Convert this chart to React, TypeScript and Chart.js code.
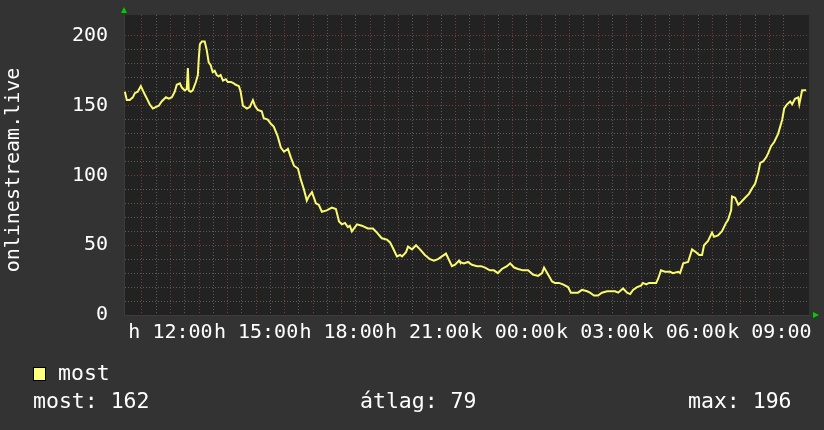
import React, { useEffect, useRef } from "react";
import { Chart, registerables } from "chart.js";

Chart.register(...registerables);

// time in hours (0 = Monday 00:00, 24 = Tuesday 00:00)
const times: number[] = [
  10.40, 10.47, 10.57, 10.68, 10.75, 10.85, 10.96, 11.03, 11.10, 11.20, 11.27, 11.38, 11.48, 11.59, 11.69, 11.84, 11.94,
  12.05, 12.15, 12.22, 12.33, 12.40, 12.50, 12.57, 12.61, 12.64, 12.71, 12.78, 12.89, 12.96, 12.99, 13.03, 13.10, 13.20,
  13.27, 13.34, 13.41, 13.48, 13.55, 13.62, 13.69, 13.76, 13.84, 13.94, 14.01, 14.12, 14.22, 14.29, 14.40, 14.46, 14.54,
  14.68, 14.78, 14.89, 14.96, 15.06, 15.20, 15.27, 15.41, 15.52, 15.62, 15.76, 15.87, 15.98, 16.12, 16.22, 16.33, 16.47,
  16.57, 16.68, 16.78, 16.85, 16.96, 17.10, 17.20, 17.31, 17.48, 17.66, 17.80, 17.91, 18.01, 18.12, 18.22, 18.29, 18.36,
  18.54, 18.71, 18.92, 19.10, 19.24, 19.41, 19.59, 19.70, 19.80, 19.94, 20.05, 20.12, 20.26, 20.33, 20.47, 20.61, 20.75,
  20.92, 21.10, 21.24, 21.38, 21.52, 21.66, 21.73, 21.87, 21.98, 22.12, 22.15, 22.29, 22.43, 22.57, 22.75, 22.89, 23.03,
  23.20, 23.34, 23.48, 23.62, 23.80, 23.91, 24.05, 24.19, 24.36, 24.54, 24.71, 24.89, 25.03, 25.10, 25.24, 25.38, 25.48,
  25.62, 25.76, 25.94, 26.04, 26.19, 26.29, 26.43, 26.61, 26.71, 26.85, 26.99, 27.13, 27.31, 27.48, 27.59, 27.70, 27.87,
  28.01, 28.12, 28.22, 28.36, 28.50, 28.57, 28.68, 28.78, 28.89, 29.03, 29.10, 29.20, 29.34, 29.52, 29.62, 29.80, 29.87,
  29.98, 30.15, 30.29, 30.43, 30.54, 30.64, 30.71, 30.85, 30.99, 31.06, 31.20, 31.34, 31.48, 31.55, 31.66, 31.69, 31.80,
  31.91, 32.01, 32.15, 32.29, 32.40, 32.50, 32.61, 32.68, 32.78, 32.89, 32.96, 33.06, 33.17, 33.31, 33.38, 33.45, 33.52,
  33.62, 33.73, 33.80, 33.90, 34.01, 34.05, 34.15, 34.29,
];

const listeners: number[] = [
  160, 154, 154, 156, 159, 160, 164, 161, 158, 154, 151, 148, 149, 150, 153, 156, 155,
  156, 160, 165, 166, 163, 161, 162, 177, 161, 160, 161, 167, 172, 183, 194, 196, 196,
  190, 181, 179, 174, 175, 172, 171, 172, 168, 169, 167, 167, 166, 165, 164, 160, 150,
  148, 149, 154, 150, 147, 146, 141, 140, 137, 135, 128, 120, 117, 119, 113, 107, 105,
  97, 90, 82, 85, 88, 80, 79, 74, 75, 77, 76, 67, 65, 66, 63, 64, 60,
  65, 64, 62, 62, 59, 55, 54, 52, 48, 42, 43, 42, 45, 49, 47, 50, 47,
  43, 40, 39, 40, 42, 44, 41, 35, 36, 39, 38, 37, 38, 36, 35, 35, 34,
  32, 32, 30, 33, 35, 37, 34, 33, 32, 32, 29, 28, 30, 34, 29, 24, 23,
  23, 22, 20, 16, 16, 16, 18, 17, 16, 14, 14, 16, 17, 17, 17, 16, 19,
  16, 15, 18, 20, 21, 23, 22, 23, 23, 23, 26, 32, 31, 31, 30, 31, 30,
  37, 38, 47, 45, 43, 43, 50, 53, 59, 56, 57, 60, 66, 68, 75, 85, 84,
  79, 81, 84, 87, 91, 94, 102, 109, 110, 113, 116, 121, 124, 130, 135, 140, 148,
  151, 153, 151, 155, 156, 151, 161, 161,
];

const xMin = 10.37;
const xMax = 34.39;
const yMax = 215;
const dayNames: string[] = ["h", "k"];
const yLabelValues: number[] = [0, 50, 100, 150, 200];
const axisTitle = "onlinestream.live";
const legendName = "most";
const statLabels: string[] = ["most: 162", "átlag: 79", "max: 196"];

const FONT = '"DejaVu Sans Mono", monospace';
const LINE = "#fafa70";
const MAJOR = "#7a3a3a";
const MINOR = "#5a5a5a";

function fmtX(v: number): string {
  const r = Math.round(v * 100) / 100;
  if (Math.abs(r % 3) > 1e-6) return "";
  const day = Math.floor(r / 24);
  const h = ((r % 24) + 24) % 24;
  return `${dayNames[day] ?? ""} ${String(h).padStart(2, "0")}:00`;
}

const decor = {
  id: "rrdDecor",
  beforeDraw(chart: any) {
    const { ctx, chartArea: a } = chart;
    ctx.save();
    ctx.fillStyle = "#333333";
    ctx.fillRect(0, 0, chart.width, chart.height);
    ctx.fillStyle = "#222222";
    ctx.fillRect(a.left, a.top, a.right - a.left, a.bottom - a.top);
    ctx.restore();
  },
  afterDraw(chart: any) {
    const { ctx, chartArea: a } = chart;
    ctx.save();
    // arrows
    ctx.fillStyle = "#00cc00";
    ctx.beginPath();
    ctx.moveTo(a.left - 3, a.top - 2);
    ctx.lineTo(a.left + 3, a.top - 2);
    ctx.lineTo(a.left, a.top - 8);
    ctx.closePath();
    ctx.fill();
    ctx.beginPath();
    ctx.moveTo(a.right + 4, a.bottom - 3);
    ctx.lineTo(a.right + 4, a.bottom + 3);
    ctx.lineTo(a.right + 10, a.bottom);
    ctx.closePath();
    ctx.fill();
    // axis title
    ctx.fillStyle = "#ffffff";
    ctx.font = `20px ${FONT}`;
    ctx.textAlign = "center";
    ctx.textBaseline = "middle";
    ctx.translate(14, 170);
    ctx.rotate(-Math.PI / 2);
    ctx.fillText(axisTitle, 0, 0);
    ctx.restore();

    ctx.save();
    ctx.font = `21.5px ${FONT}`;
    ctx.textBaseline = "middle";
    ctx.textAlign = "left";
    ctx.fillStyle = "#ffff80";
    ctx.fillRect(33, 367, 13, 14);
    ctx.strokeStyle = "#000000";
    ctx.lineWidth = 1;
    ctx.strokeRect(33.5, 367.5, 12, 13);
    ctx.fillStyle = "#ffffff";
    ctx.fillText(legendName, 58, 374);
    ctx.fillText(statLabels[0], 33, 402);
    ctx.fillText(statLabels[1], 360, 402);
    ctx.fillText(statLabels[2], 688, 402);
    ctx.restore();
  },
};

export default function App() {
  const ref = useRef<HTMLCanvasElement | null>(null);
  useEffect(() => {
    document.body.style.margin = "0";
    const canvas = ref.current;
    if (!canvas) return;
    const data = times.map((t, i) => ({ x: t, y: listeners[i] }));
    const chart = new Chart(canvas, {
      type: "line",
      data: {
        datasets: [
          {
            label: legendName,
            data,
            borderColor: LINE,
            borderWidth: 2,
            pointRadius: 0,
            tension: 0,
            fill: false,
          },
        ],
      },
      options: {
        animation: false,
        responsive: false,
        maintainAspectRatio: false,
        layout: { autoPadding: false, padding: { left: 0, right: 15, top: 15, bottom: 0 } },
        plugins: { legend: { display: false }, tooltip: { enabled: false } },
        scales: {
          x: {
            type: "linear",
            min: xMin,
            max: xMax,
            afterFit: (s: any) => {
              s.height = 115;
              s.paddingLeft = 0;
              s.paddingRight = 0;
            },
            border: { display: true, color: "#3c3c3c", width: 1, dash: [1, 2] },
            grid: {
              drawTicks: false,
              lineWidth: 1,
              color: (c: any) => {
                const v = Math.round((c.tick?.value ?? 0) * 100) / 100;
                if (Math.abs(v % 1) < 1e-6) return MAJOR;
                if (Math.abs(v % 0.5) < 1e-6) return MINOR;
                return "rgba(0,0,0,0)";
              },
            },
            ticks: {
              stepSize: 0.5,
              maxTicksLimit: 200,
              autoSkip: false,
              maxRotation: 0,
              minRotation: 0,
              padding: 6,
              color: "#ffffff",
              font: { family: FONT, size: 20 },
              callback: (v: any) => fmtX(Number(v)),
            },
          },
          y: {
            min: 0,
            max: yMax,
            afterFit: (s: any) => {
              s.width = 124;
              s.paddingTop = 0;
              s.paddingBottom = 0;
            },
            border: { display: true, color: "#3c3c3c", width: 1, dash: [1, 2] },
            grid: {
              drawTicks: false,
              lineWidth: 1,
              color: (c: any) => {
                const v = Math.round(c.tick?.value ?? 0);
                if (v === 0 || v >= yMax) return "rgba(0,0,0,0)";
                if (v % 50 === 0) return MAJOR;
                if (v % 10 === 0) return MINOR;
                return "rgba(0,0,0,0)";
              },
            },
            ticks: {
              stepSize: 10,
              maxTicksLimit: 200,
              autoSkip: false,
              padding: 16,
              color: "#ffffff",
              font: { family: FONT, size: 20 },
              callback: (v: any) => (yLabelValues.includes(Number(v)) ? String(v) : ""),
            },
          },
        },
      },
      plugins: [decor],
    });
    return () => chart.destroy();
  }, []);
  return (
    <div style={{ width: 824, height: 430, background: "#333333" }}>
      <canvas ref={ref} width={824} height={430} style={{ display: "block" }} />
    </div>
  );
}
